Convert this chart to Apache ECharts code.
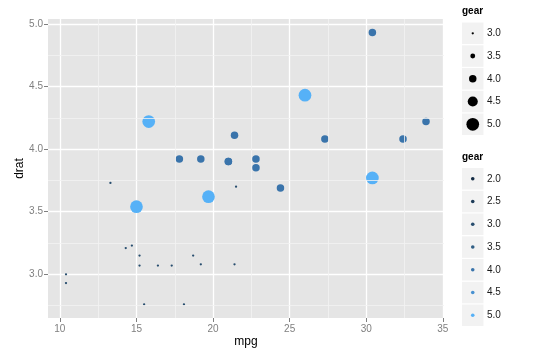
<!DOCTYPE html>
<html>
<head>
<meta charset="utf-8">
<script src="https://cdn.jsdelivr.net/npm/echarts@6/dist/echarts.min.js"></script>
<style>
  html, body { margin: 0; padding: 0; background: #fff; }
  #chart { width: 536px; height: 360px; }
</style>
</head>
<body>
<div id="chart"></div>
<script>
// mtcars: mpg, drat, gear
var mpg  = [21.0, 21.0, 22.8, 21.4, 18.7, 18.1, 14.3, 24.4, 22.8, 19.2, 17.8, 16.4, 17.3, 15.2, 10.4, 10.4,
            14.7, 32.4, 30.4, 33.9, 21.5, 15.5, 15.2, 13.3, 19.2, 27.3, 26.0, 30.4, 15.8, 19.7, 15.0, 21.4];
var drat = [3.90, 3.90, 3.85, 3.08, 3.15, 2.76, 3.21, 3.69, 3.92, 3.92, 3.92, 3.07, 3.07, 3.07, 2.93, 3.00,
            3.23, 4.08, 4.93, 4.22, 3.70, 2.76, 3.15, 3.73, 3.08, 4.08, 4.43, 3.77, 4.22, 3.62, 3.54, 4.11];
var gear = [4, 4, 4, 3, 3, 3, 3, 4, 4, 4, 4, 3, 3, 3, 3, 3,
            3, 4, 4, 4, 3, 3, 3, 3, 3, 4, 5, 5, 5, 5, 5, 4];

var xTicks = [10, 15, 20, 25, 30, 35];
var xMinor = [12.5, 17.5, 22.5, 27.5, 32.5];
var yTicks = [3.0, 3.5, 4.0, 4.5, 5.0];
var yMinor = [2.75, 3.25, 3.75, 4.25, 4.75];

var sizeBreaks  = [3.0, 3.5, 4.0, 4.5, 5.0];
var colorBreaks = [2.0, 2.5, 3.0, 3.5, 4.0, 4.5, 5.0];

var palette = ['#132B43', '#1D3C58', '#274D6E', '#315F85', '#3A74AB', '#4891D1', '#56B1F7'];

function gearColor(g) {
  return echarts.color.lerp((g - 2) / 3, palette);
}
function gearSize(g) {
  return 2.3 + (g - 3) * 5.2;
}

var points = mpg.map(function (m, i) { return [m, drat[i], gear[i]]; });

var minorLines = xMinor.map(function (v) { return { xAxis: v }; })
  .concat(yMinor.map(function (v) { return { yAxis: v }; }));

// legends
var graphics = [];
var keyX = 462, keyW = 21.5, keyH = 21.5, step = 22.75;

graphics.push({
  type: 'text', left: keyX, top: 6,
  style: { text: 'gear', font: 'bold 10px "Liberation Sans", Arial', fill: '#000' }
});
sizeBreaks.forEach(function (g, i) {
  var cy = 33.3 + i * step;
  graphics.push({
    type: 'rect', shape: { x: keyX, y: cy - keyH / 2, width: keyW, height: keyH },
    style: { fill: '#F2F2F2' }
  });
  graphics.push({
    type: 'circle', shape: { cx: keyX + keyW / 2, cy: cy, r: gearSize(g) / 2 },
    style: { fill: '#000' }
  });
  graphics.push({
    type: 'text', x: 487, y: cy,
    style: { text: g.toFixed(1), font: '10px "Liberation Sans", Arial', fill: '#1a1a1a', verticalAlign: 'middle' }
  });
});

graphics.push({
  type: 'text', left: keyX, top: 152.5,
  style: { text: 'gear', font: 'bold 10px "Liberation Sans", Arial', fill: '#000' }
});
colorBreaks.forEach(function (g, i) {
  var cy = 178.8 + i * step;
  graphics.push({
    type: 'rect', shape: { x: keyX, y: cy - keyH / 2, width: keyW, height: keyH },
    style: { fill: '#F2F2F2' }
  });
  graphics.push({
    type: 'circle', shape: { cx: keyX + keyW / 2, cy: cy, r: 1.8 },
    style: { fill: gearColor(g) }
  });
  graphics.push({
    type: 'text', x: 487, y: cy,
    style: { text: g.toFixed(1), font: '10px "Liberation Sans", Arial', fill: '#1a1a1a', verticalAlign: 'middle' }
  });
});

var chart = echarts.init(document.getElementById('chart'));

var option = {
  backgroundColor: '#fff',
  animation: false,
  textStyle: { fontFamily: '"Liberation Sans", Arial, sans-serif' },
  grid: {
    left: 48, top: 19, width: 396, height: 299,
    show: true, backgroundColor: '#E5E5E5', borderWidth: 0
  },
  xAxis: {
    type: 'value',
    min: 9.225, max: 35.075,
    name: 'mpg', nameLocation: 'middle', nameGap: 18, nameMoveOverlap: false,
    nameTextStyle: { fontSize: 12, color: '#000' },
    axisLine: { show: false },
    axisTick: { show: true, length: 4, customValues: xTicks, lineStyle: { color: '#7F7F7F' } },
    axisLabel: { customValues: xTicks, color: '#7F7F7F', fontSize: 10, margin: 6 },
    splitLine: { show: true, lineStyle: { color: '#FFFFFF', width: 1.3 } }
  },
  yAxis: {
    type: 'value',
    min: 2.6515, max: 5.0385,
    name: 'drat', nameLocation: 'middle', nameGap: 22, nameMoveOverlap: false,
    nameTextStyle: { fontSize: 12, color: '#000' },
    axisLine: { show: false },
    axisTick: { show: true, length: 4, customValues: yTicks, lineStyle: { color: '#7F7F7F' } },
    axisLabel: {
      customValues: yTicks, color: '#7F7F7F', fontSize: 10, margin: 5,
      formatter: function (v) { return v.toFixed(1); }
    },
    splitLine: { show: true, lineStyle: { color: '#FFFFFF', width: 1.3 } }
  },
  graphic: graphics,
  series: [
    {
      type: 'scatter',
      data: [],
      z: 1,
      silent: true,
      markLine: {
        silent: true,
        symbol: 'none',
        label: { show: false },
        lineStyle: { color: '#F2F2F2', width: 0.8, type: 'solid' },
        data: minorLines
      }
    },
    {
      type: 'scatter',
      z: 3,
      data: points,
      symbol: 'circle',
      symbolSize: function (d) { return gearSize(d[2]); },
      itemStyle: {
        opacity: 1,
        color: function (p) { return gearColor(p.data[2]); }
      }
    }
  ]
};

chart.setOption(option);
</script>
</body>
</html>
